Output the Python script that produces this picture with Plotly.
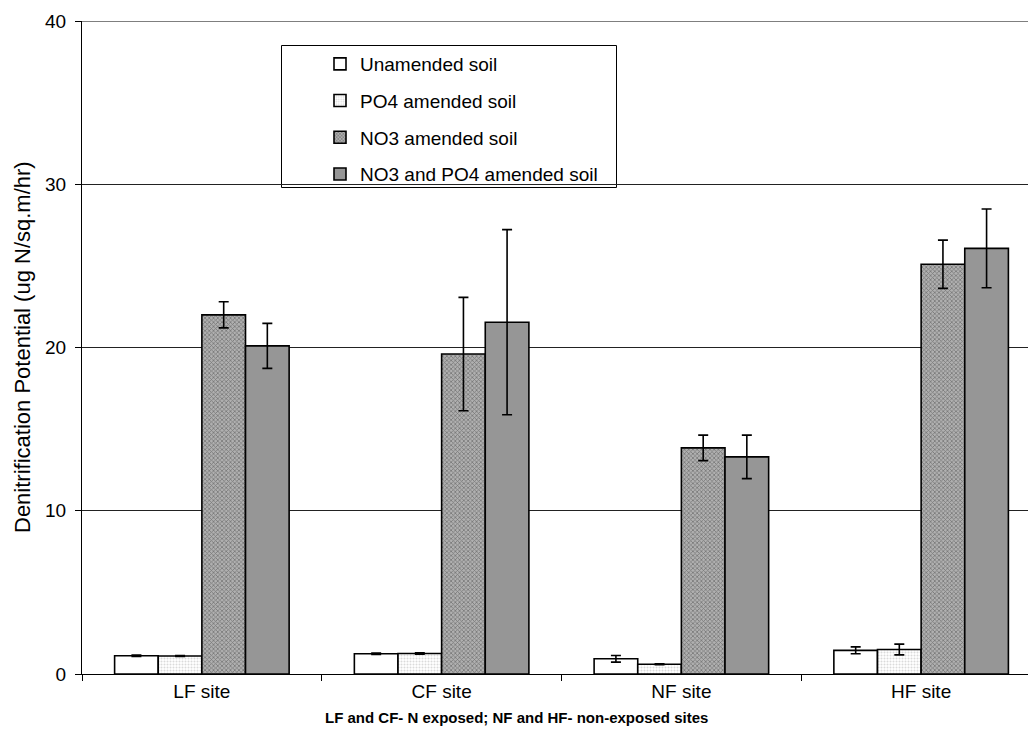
import plotly.graph_objects as go

sites = ["LF site", "CF site", "NF site", "HF site"]
series_names = ["Unamended soil", "PO4 amended soil", "NO3 amended soil", "NO3 and PO4 amended soil"]
unamended = [1.12, 1.24, 0.93, 1.45]
unamended_err = [0.04, 0.04, 0.2, 0.21]
po4 = [1.10, 1.26, 0.60, 1.50]
po4_err = [0.03, 0.04, 0.03, 0.33]
no3 = [22.0, 19.6, 13.85, 25.1]
no3_err = [0.8, 3.47, 0.78, 1.48]
no3_po4 = [20.1, 21.55, 13.3, 26.07]
no3_po4_err = [1.38, 5.67, 1.33, 2.41]
y_ticks = [0, 10, 20, 30, 40]

# body margin is removed in the page, so figure pixels == page pixels
W, H = 1028, 744
PLOT_L, PLOT_R, PLOT_T, PLOT_B = 82, 1028, 21, 674
L, T, R, B = PLOT_L, PLOT_T, W - PLOT_R, H - PLOT_B
pw = PLOT_R - PLOT_L
ph = PLOT_B - PLOT_T

def px_x(p):
    return (p - PLOT_L) / pw

def px_y(p):
    return (PLOT_B - p) / ph

styles = [
    dict(color="white", pattern=None),
    dict(color="white", pattern=dict(shape=".", fgcolor="#b5b5b5", bgcolor="white", size=3, solidity=0.35)),
    dict(color="#9a9a9a", pattern=dict(shape="x", fgcolor="#3c3c3c", bgcolor="#b0b0b0", size=3, solidity=0.45)),
    dict(color="#969696", pattern=None),
]
vals = [unamended, po4, no3, no3_po4]
errs = [unamended_err, po4_err, no3_err, no3_po4_err]

fig = go.Figure()
for i, (name, v, e, st) in enumerate(zip(series_names, vals, errs, styles)):
    marker = dict(color=st["color"], line=dict(color="black", width=1.6))
    if st["pattern"]:
        marker["pattern"] = st["pattern"]
    fig.add_trace(go.Bar(
        x=sites, y=v, name=name, marker=marker, legendgroup=str(i),
        error_y=dict(type="data", array=e, visible=True, color="black", thickness=1.6, width=5),
    ))

fig.update_layout(
    width=W, height=H,
    margin=dict(l=L, r=R, t=T, b=B, autoexpand=False),
    paper_bgcolor="white", plot_bgcolor="white",
    barmode="group", bargap=0.272, bargroupgap=0,
    font=dict(family="Liberation Sans, Arial, sans-serif", color="black"),
    showlegend=True,
    legend=dict(
        x=px_x(320), y=px_y(45), xanchor="left", yanchor="top",
        bgcolor="rgba(0,0,0,0)", borderwidth=0,
        font=dict(size=19), tracegroupgap=9, traceorder="grouped",
        itemclick=False, itemdoubleclick=False,
    ),
    shapes=[
        dict(type="rect", xref="paper", yref="paper",
             x0=px_x(281.5), x1=px_x(616.5), y0=px_y(187.5), y1=px_y(45.5),
             line=dict(color="black", width=1), fillcolor="white", layer="below"),
        dict(type="line", xref="paper", yref="y", x0=0, x1=1, y0=y_ticks[-1], y1=y_ticks[-1],
             line=dict(color="#555555", width=1.5), layer="below"),
    ],
    xaxis=dict(
        range=[-0.5, 3.5 - (1041 - PLOT_R) / 239.7],
        showline=True, linecolor="black", linewidth=1,
        ticks="outside", tickson="boundaries", ticklen=6, tickcolor="black",
        tickfont=dict(size=19), showgrid=False, zeroline=False,
    ),
    yaxis=dict(
        range=[0, 40], tickvals=y_ticks,
        showline=True, linecolor="black", linewidth=1,
        ticks="outside", ticklen=6, tickcolor="black", ticklabelstandoff=5,
        tickfont=dict(size=19), showgrid=True, gridcolor="#222222", gridwidth=1,
        zeroline=False,
    ),
    annotations=[
        dict(text="Denitrification Potential (ug N/sq.m/hr)", xref="paper", yref="paper",
             x=px_x(22), y=px_y(347), textangle=-90, showarrow=False,
             font=dict(size=22), xanchor="center", yanchor="middle"),
        dict(text="<b>LF and CF- N exposed; NF and HF- non-exposed sites</b>", xref="paper", yref="paper",
             x=px_x(516), y=px_y(718), showarrow=False,
             font=dict(size=15), xanchor="center", yanchor="middle"),
    ],
)

fig.write_html(
    "out.html",
    config={"displayModeBar": False, "staticPlot": True},
    post_script="document.body.style.margin='0';document.body.style.overflow='hidden';"
                "document.documentElement.style.overflow='hidden';",
)
